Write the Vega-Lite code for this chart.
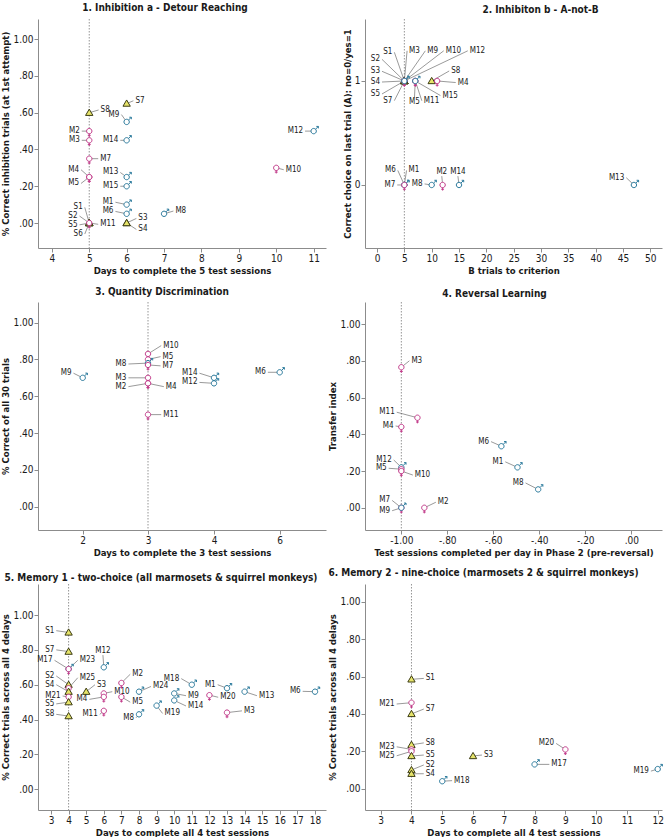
{
  "$schema": "https://vega.github.io/schema/vega-lite/v6.json",
  "padding": {"top": 2, "left": 0, "right": 0, "bottom": 0},
  "background": "white",
  "bounds": "flush",
  "columns": 2,
  "spacing": {"row": 54, "column": 39},
  "config": {
    "view": {"stroke": null},
    "font": "DejaVu Sans Condensed",
    "axis": {"grid": false, "domainColor": "#8c8c8c", "tickColor": "#8c8c8c", "tickSize": 4, "labelFont": "DejaVu Sans Condensed", "labelFontSize": 10, "labelColor": "#1a1a1a", "titleFont": "DejaVu Sans Condensed", "titleFontSize": 9.5, "titleFontWeight": "bold", "titleColor": "#1a1a1a", "labelFlush": false, "labelOverlap": false},
    "axisX": {"labelPadding": 1, "titlePadding": 2},
    "axisY": {"labelPadding": 1, "titlePadding": 2},
    "title": {"font": "DejaVu Sans Condensed", "fontSize": 10, "fontWeight": "bold", "color": "#1a1a1a", "anchor": "middle"}
  },
  "datasets": {
    "p1": [
      {"id": "S8", "g": "S", "x": 5, "y": 0.60, "lx": 5.25, "ly": 0.615},
      {"id": "S7", "g": "S", "x": 6, "y": 0.65, "lx": 6.18, "ly": 0.665},
      {"id": "M9", "g": "M", "x": 6, "y": 0.55, "lx": 5.86, "ly": 0.59},
      {"id": "M2", "g": "F", "x": 5, "y": 0.50, "lx": 4.80, "ly": 0.50},
      {"id": "M3", "g": "F", "x": 5, "y": 0.45, "lx": 4.80, "ly": 0.45},
      {"id": "M14", "g": "M", "x": 6, "y": 0.45, "lx": 5.83, "ly": 0.45},
      {"id": "M12", "g": "M", "x": 11, "y": 0.50, "lx": 10.77, "ly": 0.50},
      {"id": "M7", "g": "F", "x": 5, "y": 0.35, "lx": 5.24, "ly": 0.35},
      {"id": "M10", "g": "F", "x": 10, "y": 0.30, "lx": 10.2, "ly": 0.29},
      {"id": "M4", "g": "F", "x": 5, "y": 0.25, "lx": 4.78, "ly": 0.29},
      {"id": "M5", "g": "F", "x": 5, "y": 0.25, "lx": 4.78, "ly": 0.215},
      {"id": "M13", "g": "M", "x": 6, "y": 0.25, "lx": 5.83, "ly": 0.275},
      {"id": "M15", "g": "M", "x": 6, "y": 0.20, "lx": 5.83, "ly": 0.20},
      {"id": "M1", "g": "M", "x": 6, "y": 0.10, "lx": 5.70, "ly": 0.113},
      {"id": "M6", "g": "M", "x": 6, "y": 0.05, "lx": 5.70, "ly": 0.063},
      {"id": "M8", "g": "M", "x": 7, "y": 0.05, "lx": 7.25, "ly": 0.065},
      {"id": "S3", "g": "S", "x": 6, "y": 0, "lx": 6.26, "ly": 0.025},
      {"id": "S4", "g": "S", "x": 6, "y": 0, "lx": 6.26, "ly": -0.035},
      {"id": "S1", "g": "S", "x": 5, "y": 0, "lx": 4.88, "ly": 0.085},
      {"id": "S2", "g": "S", "x": 5, "y": 0, "lx": 4.74, "ly": 0.038},
      {"id": "S5", "g": "S", "x": 5, "y": 0, "lx": 4.74, "ly": -0.01},
      {"id": "S6", "g": "S", "x": 5, "y": 0, "lx": 4.88, "ly": -0.06},
      {"id": "M11", "g": "F", "x": 5, "y": 0, "lx": 5.24, "ly": -0.007}
    ],
    "p2": [
      {"id": "S1", "g": "S", "x": 5, "y": 1, "lx": 3.17, "ly": 1.276},
      {"id": "S2", "g": "S", "x": 5, "y": 1, "lx": 0.91, "ly": 1.208},
      {"id": "S3", "g": "S", "x": 5, "y": 1, "lx": 0.91, "ly": 1.093},
      {"id": "S4", "g": "S", "x": 5, "y": 1, "lx": 0.91, "ly": 0.99},
      {"id": "S5", "g": "S", "x": 5, "y": 1, "lx": 0.91, "ly": 0.875},
      {"id": "S7", "g": "S", "x": 5, "y": 1, "lx": 3.17, "ly": 0.811},
      {"id": "M3", "g": "F", "x": 5, "y": 1, "lx": 5.5, "ly": 1.29},
      {"id": "M9", "g": "M", "x": 5, "y": 1, "lx": 8.84, "ly": 1.29},
      {"id": "M10", "g": "F", "x": 5, "y": 1, "lx": 12.2, "ly": 1.29},
      {"id": "M12", "g": "M", "x": 5, "y": 1, "lx": 16.6, "ly": 1.29},
      {"id": "M5", "g": "F", "x": 7, "y": 1, "lx": 6.85, "ly": 0.84},
      {"id": "M11", "g": "F", "x": 7, "y": 1, "lx": 8.2, "ly": 0.81},
      {"id": "M15", "g": "M", "x": 7, "y": 1, "lx": 11.6, "ly": 0.86},
      {"id": "S8", "g": "S", "x": 10, "y": 1, "lx": 13.2, "ly": 1.096},
      {"id": "M4", "g": "F", "x": 11, "y": 1, "lx": 14.4, "ly": 0.985},
      {"id": "M6", "g": "M", "x": 5, "y": 0, "lx": 3.8, "ly": 0.14},
      {"id": "M1", "g": "M", "x": 5, "y": 0, "lx": 5.4, "ly": 0.14},
      {"id": "M7", "g": "F", "x": 5, "y": 0, "lx": 3.7, "ly": 0},
      {"id": "M8", "g": "M", "x": 10, "y": 0, "lx": 8.7, "ly": 0.01},
      {"id": "M2", "g": "F", "x": 12, "y": 0, "lx": 11.85, "ly": 0.085},
      {"id": "M14", "g": "M", "x": 15, "y": 0, "lx": 14.8, "ly": 0.085},
      {"id": "M13", "g": "M", "x": 47, "y": 0, "lx": 45.6, "ly": 0.07}
    ],
    "p3": [
      {"id": "M9", "g": "M", "x": 2, "y": 0.70, "lx": 1.86, "ly": 0.725},
      {"id": "M10", "g": "F", "x": 3, "y": 0.83, "lx": 3.2, "ly": 0.875},
      {"id": "M5", "g": "F", "x": 3, "y": 0.80, "lx": 3.19, "ly": 0.815},
      {"id": "M8", "g": "M", "x": 3, "y": 0.78, "lx": 2.7, "ly": 0.775},
      {"id": "M7", "g": "F", "x": 3, "y": 0.77, "lx": 3.19, "ly": 0.765},
      {"id": "M3", "g": "F", "x": 3, "y": 0.70, "lx": 2.7, "ly": 0.70},
      {"id": "M2", "g": "F", "x": 3, "y": 0.67, "lx": 2.7, "ly": 0.652},
      {"id": "M4", "g": "F", "x": 3, "y": 0.67, "lx": 3.24, "ly": 0.652},
      {"id": "M11", "g": "F", "x": 3, "y": 0.50, "lx": 3.2, "ly": 0.50},
      {"id": "M14", "g": "M", "x": 4, "y": 0.70, "lx": 3.78, "ly": 0.725},
      {"id": "M12", "g": "M", "x": 4, "y": 0.67, "lx": 3.78, "ly": 0.675},
      {"id": "M6", "g": "M", "x": 6, "y": 0.73, "lx": 5.64, "ly": 0.73}
    ],
    "p4": [
      {"id": "M3", "g": "F", "x": -1, "y": 0.765, "lx": -0.965, "ly": 0.80},
      {"id": "M11", "g": "F", "x": -0.93, "y": 0.49, "lx": -1.02, "ly": 0.52},
      {"id": "M4", "g": "F", "x": -1, "y": 0.44, "lx": -1.025, "ly": 0.445},
      {"id": "M6", "g": "M", "x": -0.565, "y": 0.335, "lx": -0.61, "ly": 0.36},
      {"id": "M1", "g": "M", "x": -0.495, "y": 0.22, "lx": -0.548, "ly": 0.25},
      {"id": "M8", "g": "M", "x": -0.405, "y": 0.10, "lx": -0.46, "ly": 0.135},
      {"id": "M12", "g": "M", "x": -1, "y": 0.22, "lx": -1.033, "ly": 0.26},
      {"id": "M5", "g": "F", "x": -1, "y": 0.21, "lx": -1.055, "ly": 0.215},
      {"id": "M10", "g": "F", "x": -1, "y": 0.20, "lx": -0.95, "ly": 0.178},
      {"id": "M7", "g": "F", "x": -1, "y": 0, "lx": -1.04, "ly": 0.04},
      {"id": "M9", "g": "M", "x": -1, "y": 0, "lx": -1.04, "ly": -0.016},
      {"id": "M2", "g": "F", "x": -0.90, "y": 0, "lx": -0.85, "ly": 0.03}
    ],
    "p5": [
      {"id": "S1", "g": "S", "x": 4, "y": 0.90, "lx": 3.3, "ly": 0.91},
      {"id": "S7", "g": "S", "x": 4, "y": 0.79, "lx": 3.3, "ly": 0.80},
      {"id": "M17", "g": "M", "x": 4, "y": 0.69, "lx": 3.2, "ly": 0.74},
      {"id": "M23", "g": "F", "x": 4, "y": 0.69, "lx": 4.52, "ly": 0.74},
      {"id": "M12", "g": "M", "x": 6, "y": 0.70, "lx": 5.95, "ly": 0.77},
      {"id": "S2", "g": "S", "x": 4, "y": 0.60, "lx": 3.3, "ly": 0.65},
      {"id": "M25", "g": "F", "x": 4, "y": 0.58, "lx": 4.52, "ly": 0.64},
      {"id": "S4", "g": "S", "x": 4, "y": 0.56, "lx": 3.3, "ly": 0.60},
      {"id": "M21", "g": "F", "x": 4, "y": 0.53, "lx": 3.66, "ly": 0.535},
      {"id": "S5", "g": "S", "x": 4, "y": 0.50, "lx": 3.3, "ly": 0.49},
      {"id": "S8", "g": "S", "x": 4, "y": 0.42, "lx": 3.3, "ly": 0.43},
      {"id": "S3", "g": "S", "x": 5, "y": 0.56, "lx": 5.5, "ly": 0.60},
      {"id": "M10", "g": "F", "x": 6, "y": 0.55, "lx": 6.48, "ly": 0.56},
      {"id": "M4", "g": "F", "x": 6, "y": 0.53, "lx": 5.18, "ly": 0.516},
      {"id": "M11", "g": "F", "x": 6, "y": 0.45, "lx": 5.77, "ly": 0.43},
      {"id": "M2", "g": "F", "x": 7, "y": 0.61, "lx": 7.5, "ly": 0.66},
      {"id": "M5", "g": "F", "x": 7, "y": 0.53, "lx": 7.5, "ly": 0.50},
      {"id": "M8", "g": "M", "x": 8, "y": 0.43, "lx": 7.83, "ly": 0.41},
      {"id": "M24", "g": "M", "x": 8, "y": 0.56, "lx": 8.68, "ly": 0.59},
      {"id": "M19", "g": "M", "x": 9, "y": 0.48, "lx": 9.34, "ly": 0.435},
      {"id": "M9", "g": "M", "x": 10, "y": 0.55, "lx": 10.67, "ly": 0.537},
      {"id": "M14", "g": "M", "x": 10, "y": 0.51, "lx": 10.67, "ly": 0.478},
      {"id": "M18", "g": "M", "x": 11, "y": 0.60, "lx": 10.4, "ly": 0.635},
      {"id": "M20", "g": "F", "x": 12, "y": 0.54, "lx": 12.5, "ly": 0.528},
      {"id": "M1", "g": "M", "x": 13, "y": 0.58, "lx": 12.47, "ly": 0.60},
      {"id": "M3", "g": "F", "x": 13, "y": 0.44, "lx": 13.85, "ly": 0.45},
      {"id": "M13", "g": "M", "x": 14, "y": 0.56, "lx": 14.7, "ly": 0.537},
      {"id": "M6", "g": "M", "x": 18, "y": 0.56, "lx": 17.3, "ly": 0.562}
    ],
    "p6": [
      {"id": "S1", "g": "S", "x": 4, "y": 0.585, "lx": 4.4, "ly": 0.59},
      {"id": "M21", "g": "F", "x": 4, "y": 0.46, "lx": 3.52, "ly": 0.453},
      {"id": "S7", "g": "S", "x": 4, "y": 0.40, "lx": 4.4, "ly": 0.426},
      {"id": "S8", "g": "S", "x": 4, "y": 0.235, "lx": 4.4, "ly": 0.245},
      {"id": "M23", "g": "F", "x": 4, "y": 0.21, "lx": 3.52, "ly": 0.224},
      {"id": "M25", "g": "F", "x": 4, "y": 0.20, "lx": 3.52, "ly": 0.176},
      {"id": "S5", "g": "S", "x": 4, "y": 0.175, "lx": 4.4, "ly": 0.18},
      {"id": "S2", "g": "S", "x": 4, "y": 0.10, "lx": 4.4, "ly": 0.127},
      {"id": "S4", "g": "S", "x": 4, "y": 0.08, "lx": 4.4, "ly": 0.08},
      {"id": "S3", "g": "S", "x": 6, "y": 0.175, "lx": 6.29, "ly": 0.18},
      {"id": "M18", "g": "M", "x": 5, "y": 0.04, "lx": 5.32, "ly": 0.043},
      {"id": "M17", "g": "M", "x": 8, "y": 0.13, "lx": 8.48, "ly": 0.13},
      {"id": "M20", "g": "F", "x": 9, "y": 0.21, "lx": 8.7, "ly": 0.242},
      {"id": "M19", "g": "M", "x": 12, "y": 0.105, "lx": 11.78, "ly": 0.094}
    ]
  },
  "concat": [
    {
      "width": 288, "height": 229,
      "title": {"text": "1. Inhibition a - Detour Reaching", "offset": 6, "dx": -17},
      "layer": [
        {"data": {"values": [{"ref": 5}]}, "mark": {"type": "rule", "color": "#7a7a7a", "strokeDash": [1.5, 1.5], "strokeWidth": 0.8},
         "encoding": {"x": {"field": "ref", "type": "quantitative", "title": "Days to complete the 5 test sessions", "scale": {"domain": [3.63, 11.33], "nice": false, "zero": false}, "axis": {"values": [4, 5, 6, 7, 8, 9, 10, 11], "format": "d", "labelOverlap": false}}}},
        {"data": {"name": "p1"}, "mark": {"type": "rule", "color": "#555555", "strokeWidth": 0.6},
         "encoding": {
           "x": {"field": "x", "type": "quantitative", "title": "Days to complete the 5 test sessions", "scale": {"domain": [3.63, 11.33], "nice": false, "zero": false}, "axis": {"values": [4, 5, 6, 7, 8, 9, 10, 11], "format": "d", "labelOverlap": false}},
           "y": {"field": "y", "type": "quantitative", "title": "% Correct inhibition trials (at 1st attempt)", "scale": {"domain": [-0.136, 1.11], "nice": false, "zero": false}, "axis": {"values": [0, 0.2, 0.4, 0.6, 0.8, 1], "labelOverlap": false, "labelExpr": "(datum.value < 0 ? '-' : '') + (abs(datum.value) >= 1 ? format(abs(datum.value), '.2f') : substring(format(abs(datum.value), '.2f'), 1))"}},
           "x2": {"field": "lx"}, "y2": {"field": "ly"}}},
        {"data": {"name": "p1"}, "mark": {"type": "text", "font": "DejaVu Sans Condensed", "fontSize": 8, "color": "#1a1a1a",
           "align": {"expr": "datum.lx > datum.x + 0.05 ? 'left' : (datum.lx < datum.x - 0.05 ? 'right' : 'center')"},
           "baseline": {"expr": "abs(datum.lx - datum.x) <= 0.05 ? (datum.ly > datum.y ? 'bottom' : 'top') : 'middle'"},
           "dx": {"expr": "datum.lx > datum.x + 0.05 ? 2 : (datum.lx < datum.x - 0.05 ? -2 : 0)"}},
         "encoding": {
           "x": {"field": "lx", "type": "quantitative", "title": "Days to complete the 5 test sessions", "scale": {"domain": [3.63, 11.33], "nice": false, "zero": false}, "axis": {"values": [4, 5, 6, 7, 8, 9, 10, 11], "format": "d", "labelOverlap": false}},
           "y": {"field": "ly", "type": "quantitative", "title": "% Correct inhibition trials (at 1st attempt)", "scale": {"domain": [-0.136, 1.11], "nice": false, "zero": false}, "axis": {"values": [0, 0.2, 0.4, 0.6, 0.8, 1], "labelOverlap": false, "labelExpr": "(datum.value < 0 ? '-' : '') + (abs(datum.value) >= 1 ? format(abs(datum.value), '.2f') : substring(format(abs(datum.value), '.2f'), 1))"}},
           "text": {"field": "id"}}},
        {"data": {"name": "p1"}, "mark": {"type": "point", "filled": true, "size": 80, "strokeWidth": 1, "opacity": 1},
         "encoding": {
           "x": {"field": "x", "type": "quantitative", "title": "Days to complete the 5 test sessions", "scale": {"domain": [3.63, 11.33], "nice": false, "zero": false}, "axis": {"values": [4, 5, 6, 7, 8, 9, 10, 11], "format": "d", "labelOverlap": false}},
           "y": {"field": "y", "type": "quantitative", "title": "% Correct inhibition trials (at 1st attempt)", "scale": {"domain": [-0.136, 1.11], "nice": false, "zero": false}, "axis": {"values": [0, 0.2, 0.4, 0.6, 0.8, 1], "labelOverlap": false, "labelExpr": "(datum.value < 0 ? '-' : '') + (abs(datum.value) >= 1 ? format(abs(datum.value), '.2f') : substring(format(abs(datum.value), '.2f'), 1))"}},
           "shape": {"field": "g", "type": "nominal", "legend": null, "scale": {"domain": ["F", "M", "S"], "range": ["M0.6,0A0.6,0.6,0,1,1,-0.6,0A0.6,0.6,0,1,1,0.6,0ZM0,0.6L0,1.25M-0.32,0.95L0.32,0.95", "M0.6,0A0.6,0.6,0,1,1,-0.6,0A0.6,0.6,0,1,1,0.6,0ZM0.42,-0.42L1.05,-1.05M0.6,-1.05L1.05,-1.05L1.05,-0.6", "M0,-0.8L0.82,0.6L-0.82,0.6Z"]}},
           "stroke": {"field": "g", "type": "nominal", "legend": null, "scale": {"domain": ["F", "M", "S"], "range": ["#c23b8a", "#2b7a9c", "#3c3c14"]}},
           "fill": {"field": "g", "type": "nominal", "legend": null, "scale": {"domain": ["F", "M", "S"], "range": ["#ffffff", "#ffffff", "#e6e46a"]}}
         }}
      ]
    },
    {
      "width": 297, "height": 229,
      "title": {"text": "2. Inhibiton b - A-not-B", "offset": 4, "dx": 27},
      "layer": [
        {"data": {"values": [{"ref": 5}]}, "mark": {"type": "rule", "color": "#7a7a7a", "strokeDash": [1.5, 1.5], "strokeWidth": 0.8},
         "encoding": {"x": {"field": "ref", "type": "quantitative", "title": "B trials to criterion", "scale": {"domain": [-2.2, 52.14], "nice": false, "zero": false}, "axis": {"values": [0, 5, 10, 15, 20, 25, 30, 35, 40, 45, 50], "format": "d", "labelOverlap": false}}}},
        {"data": {"name": "p2"}, "mark": {"type": "rule", "color": "#555555", "strokeWidth": 0.6},
         "encoding": {
           "x": {"field": "x", "type": "quantitative", "title": "B trials to criterion", "scale": {"domain": [-2.2, 52.14], "nice": false, "zero": false}, "axis": {"values": [0, 5, 10, 15, 20, 25, 30, 35, 40, 45, 50], "format": "d", "labelOverlap": false}},
           "y": {"field": "y", "type": "quantitative", "title": "Correct choice on last trial (A): no=0/yes=1", "scale": {"domain": [-0.606, 1.596], "nice": false, "zero": false}, "axis": {"values": [0, 1], "format": "d", "labelOverlap": false}},
           "x2": {"field": "lx"}, "y2": {"field": "ly"}}},
        {"data": {"name": "p2"}, "mark": {"type": "text", "font": "DejaVu Sans Condensed", "fontSize": 8, "color": "#1a1a1a",
           "align": {"expr": "datum.lx > datum.x + 0.3 ? 'left' : (datum.lx < datum.x - 0.3 ? 'right' : 'center')"},
           "baseline": {"expr": "abs(datum.lx - datum.x) <= 0.3 ? (datum.ly > datum.y ? 'bottom' : 'top') : 'middle'"},
           "dx": {"expr": "datum.lx > datum.x + 0.3 ? 2 : (datum.lx < datum.x - 0.3 ? -2 : 0)"}},
         "encoding": {
           "x": {"field": "lx", "type": "quantitative", "title": "B trials to criterion", "scale": {"domain": [-2.2, 52.14], "nice": false, "zero": false}, "axis": {"values": [0, 5, 10, 15, 20, 25, 30, 35, 40, 45, 50], "format": "d", "labelOverlap": false}},
           "y": {"field": "ly", "type": "quantitative", "title": "Correct choice on last trial (A): no=0/yes=1", "scale": {"domain": [-0.606, 1.596], "nice": false, "zero": false}, "axis": {"values": [0, 1], "format": "d", "labelOverlap": false}},
           "text": {"field": "id"}}},
        {"data": {"name": "p2"}, "mark": {"type": "point", "filled": true, "size": 80, "strokeWidth": 1, "opacity": 1},
         "encoding": {
           "x": {"field": "x", "type": "quantitative", "title": "B trials to criterion", "scale": {"domain": [-2.2, 52.14], "nice": false, "zero": false}, "axis": {"values": [0, 5, 10, 15, 20, 25, 30, 35, 40, 45, 50], "format": "d", "labelOverlap": false}},
           "y": {"field": "y", "type": "quantitative", "title": "Correct choice on last trial (A): no=0/yes=1", "scale": {"domain": [-0.606, 1.596], "nice": false, "zero": false}, "axis": {"values": [0, 1], "format": "d", "labelOverlap": false}},
           "shape": {"field": "g", "type": "nominal", "legend": null, "scale": {"domain": ["F", "M", "S"], "range": ["M0.6,0A0.6,0.6,0,1,1,-0.6,0A0.6,0.6,0,1,1,0.6,0ZM0,0.6L0,1.25M-0.32,0.95L0.32,0.95", "M0.6,0A0.6,0.6,0,1,1,-0.6,0A0.6,0.6,0,1,1,0.6,0ZM0.42,-0.42L1.05,-1.05M0.6,-1.05L1.05,-1.05L1.05,-0.6", "M0,-0.8L0.82,0.6L-0.82,0.6Z"]}},
           "stroke": {"field": "g", "type": "nominal", "legend": null, "scale": {"domain": ["F", "M", "S"], "range": ["#c23b8a", "#2b7a9c", "#3c3c14"]}},
           "fill": {"field": "g", "type": "nominal", "legend": null, "scale": {"domain": ["F", "M", "S"], "range": ["#ffffff", "#ffffff", "#e6e46a"]}}
         }}
      ]
    },
    {
      "width": 288, "height": 228,
      "title": {"text": "3. Quantity Discrimination", "offset": 5, "dx": -20},
      "layer": [
        {"data": {"values": [{"ref": 3}]}, "mark": {"type": "rule", "color": "#7a7a7a", "strokeDash": [1.5, 1.5], "strokeWidth": 0.8},
         "encoding": {"x": {"field": "ref", "type": "quantitative", "title": "Days to complete the 3 test sessions", "scale": {"domain": [1.32, 2, 3, 4, 6, 7.41], "range": [0, 44.7, 110, 176, 241.7, 288], "nice": false, "zero": false}, "axis": {"values": [2, 3, 4, 6], "format": "d", "labelOverlap": false}}}},
        {"data": {"name": "p3"}, "mark": {"type": "rule", "color": "#555555", "strokeWidth": 0.6},
         "encoding": {
           "x": {"field": "x", "type": "quantitative", "title": "Days to complete the 3 test sessions", "scale": {"domain": [1.32, 2, 3, 4, 6, 7.41], "range": [0, 44.7, 110, 176, 241.7, 288], "nice": false, "zero": false}, "axis": {"values": [2, 3, 4, 6], "format": "d", "labelOverlap": false}},
           "y": {"field": "y", "type": "quantitative", "title": "% Correct of all 30 trials", "scale": {"domain": [-0.127, 1.112], "nice": false, "zero": false}, "axis": {"values": [0, 0.2, 0.4, 0.6, 0.8, 1], "labelOverlap": false, "labelExpr": "(datum.value < 0 ? '-' : '') + (abs(datum.value) >= 1 ? format(abs(datum.value), '.2f') : substring(format(abs(datum.value), '.2f'), 1))"}},
           "x2": {"field": "lx"}, "y2": {"field": "ly"}}},
        {"data": {"name": "p3"}, "mark": {"type": "text", "font": "DejaVu Sans Condensed", "fontSize": 8, "color": "#1a1a1a",
           "align": {"expr": "datum.lx > datum.x + 0.05 ? 'left' : (datum.lx < datum.x - 0.05 ? 'right' : 'center')"},
           "baseline": {"expr": "abs(datum.lx - datum.x) <= 0.05 ? (datum.ly > datum.y ? 'bottom' : 'top') : 'middle'"},
           "dx": {"expr": "datum.lx > datum.x + 0.05 ? 2 : (datum.lx < datum.x - 0.05 ? -2 : 0)"}},
         "encoding": {
           "x": {"field": "lx", "type": "quantitative", "title": "Days to complete the 3 test sessions", "scale": {"domain": [1.32, 2, 3, 4, 6, 7.41], "range": [0, 44.7, 110, 176, 241.7, 288], "nice": false, "zero": false}, "axis": {"values": [2, 3, 4, 6], "format": "d", "labelOverlap": false}},
           "y": {"field": "ly", "type": "quantitative", "title": "% Correct of all 30 trials", "scale": {"domain": [-0.127, 1.112], "nice": false, "zero": false}, "axis": {"values": [0, 0.2, 0.4, 0.6, 0.8, 1], "labelOverlap": false, "labelExpr": "(datum.value < 0 ? '-' : '') + (abs(datum.value) >= 1 ? format(abs(datum.value), '.2f') : substring(format(abs(datum.value), '.2f'), 1))"}},
           "text": {"field": "id"}}},
        {"data": {"name": "p3"}, "mark": {"type": "point", "filled": true, "size": 80, "strokeWidth": 1, "opacity": 1},
         "encoding": {
           "x": {"field": "x", "type": "quantitative", "title": "Days to complete the 3 test sessions", "scale": {"domain": [1.32, 2, 3, 4, 6, 7.41], "range": [0, 44.7, 110, 176, 241.7, 288], "nice": false, "zero": false}, "axis": {"values": [2, 3, 4, 6], "format": "d", "labelOverlap": false}},
           "y": {"field": "y", "type": "quantitative", "title": "% Correct of all 30 trials", "scale": {"domain": [-0.127, 1.112], "nice": false, "zero": false}, "axis": {"values": [0, 0.2, 0.4, 0.6, 0.8, 1], "labelOverlap": false, "labelExpr": "(datum.value < 0 ? '-' : '') + (abs(datum.value) >= 1 ? format(abs(datum.value), '.2f') : substring(format(abs(datum.value), '.2f'), 1))"}},
           "shape": {"field": "g", "type": "nominal", "legend": null, "scale": {"domain": ["F", "M", "S"], "range": ["M0.6,0A0.6,0.6,0,1,1,-0.6,0A0.6,0.6,0,1,1,0.6,0ZM0,0.6L0,1.25M-0.32,0.95L0.32,0.95", "M0.6,0A0.6,0.6,0,1,1,-0.6,0A0.6,0.6,0,1,1,0.6,0ZM0.42,-0.42L1.05,-1.05M0.6,-1.05L1.05,-1.05L1.05,-0.6", "M0,-0.8L0.82,0.6L-0.82,0.6Z"]}},
           "stroke": {"field": "g", "type": "nominal", "legend": null, "scale": {"domain": ["F", "M", "S"], "range": ["#c23b8a", "#2b7a9c", "#3c3c14"]}},
           "fill": {"field": "g", "type": "nominal", "legend": null, "scale": {"domain": ["F", "M", "S"], "range": ["#ffffff", "#ffffff", "#e6e46a"]}}
         }}
      ]
    },
    {
      "width": 297, "height": 228,
      "title": {"text": "4. Reversal Learning", "offset": 3, "dx": -19},
      "layer": [
        {"data": {"values": [{"ref": -1}]}, "mark": {"type": "rule", "color": "#7a7a7a", "strokeDash": [1.5, 1.5], "strokeWidth": 0.8},
         "encoding": {"x": {"field": "ref", "type": "quantitative", "title": "Test sessions completed per day in Phase 2 (pre-reversal)", "scale": {"domain": [-1.158, 0.1335], "nice": false, "zero": false}, "axis": {"values": [-1, -0.8, -0.6, -0.4, -0.2, 0], "labelOverlap": false, "labelExpr": "(datum.value < 0 ? '-' : '') + (abs(datum.value) >= 1 ? format(abs(datum.value), '.2f') : substring(format(abs(datum.value), '.2f'), 1))"}}}},
        {"data": {"name": "p4"}, "mark": {"type": "rule", "color": "#555555", "strokeWidth": 0.6},
         "encoding": {
           "x": {"field": "x", "type": "quantitative", "title": "Test sessions completed per day in Phase 2 (pre-reversal)", "scale": {"domain": [-1.158, 0.1335], "nice": false, "zero": false}, "axis": {"values": [-1, -0.8, -0.6, -0.4, -0.2, 0], "labelOverlap": false, "labelExpr": "(datum.value < 0 ? '-' : '') + (abs(datum.value) >= 1 ? format(abs(datum.value), '.2f') : substring(format(abs(datum.value), '.2f'), 1))"}},
           "y": {"field": "y", "type": "quantitative", "title": "Transfer index", "scale": {"domain": [-0.121, 1.12], "nice": false, "zero": false}, "axis": {"values": [0, 0.2, 0.4, 0.6, 0.8, 1], "labelOverlap": false, "labelExpr": "(datum.value < 0 ? '-' : '') + (abs(datum.value) >= 1 ? format(abs(datum.value), '.2f') : substring(format(abs(datum.value), '.2f'), 1))"}},
           "x2": {"field": "lx"}, "y2": {"field": "ly"}}},
        {"data": {"name": "p4"}, "mark": {"type": "text", "font": "DejaVu Sans Condensed", "fontSize": 8, "color": "#1a1a1a",
           "align": {"expr": "datum.lx > datum.x + 0.005 ? 'left' : (datum.lx < datum.x - 0.005 ? 'right' : 'center')"},
           "baseline": {"expr": "abs(datum.lx - datum.x) <= 0.005 ? (datum.ly > datum.y ? 'bottom' : 'top') : 'middle'"},
           "dx": {"expr": "datum.lx > datum.x + 0.005 ? 2 : (datum.lx < datum.x - 0.005 ? -2 : 0)"}},
         "encoding": {
           "x": {"field": "lx", "type": "quantitative", "title": "Test sessions completed per day in Phase 2 (pre-reversal)", "scale": {"domain": [-1.158, 0.1335], "nice": false, "zero": false}, "axis": {"values": [-1, -0.8, -0.6, -0.4, -0.2, 0], "labelOverlap": false, "labelExpr": "(datum.value < 0 ? '-' : '') + (abs(datum.value) >= 1 ? format(abs(datum.value), '.2f') : substring(format(abs(datum.value), '.2f'), 1))"}},
           "y": {"field": "ly", "type": "quantitative", "title": "Transfer index", "scale": {"domain": [-0.121, 1.12], "nice": false, "zero": false}, "axis": {"values": [0, 0.2, 0.4, 0.6, 0.8, 1], "labelOverlap": false, "labelExpr": "(datum.value < 0 ? '-' : '') + (abs(datum.value) >= 1 ? format(abs(datum.value), '.2f') : substring(format(abs(datum.value), '.2f'), 1))"}},
           "text": {"field": "id"}}},
        {"data": {"name": "p4"}, "mark": {"type": "point", "filled": true, "size": 80, "strokeWidth": 1, "opacity": 1},
         "encoding": {
           "x": {"field": "x", "type": "quantitative", "title": "Test sessions completed per day in Phase 2 (pre-reversal)", "scale": {"domain": [-1.158, 0.1335], "nice": false, "zero": false}, "axis": {"values": [-1, -0.8, -0.6, -0.4, -0.2, 0], "labelOverlap": false, "labelExpr": "(datum.value < 0 ? '-' : '') + (abs(datum.value) >= 1 ? format(abs(datum.value), '.2f') : substring(format(abs(datum.value), '.2f'), 1))"}},
           "y": {"field": "y", "type": "quantitative", "title": "Transfer index", "scale": {"domain": [-0.121, 1.12], "nice": false, "zero": false}, "axis": {"values": [0, 0.2, 0.4, 0.6, 0.8, 1], "labelOverlap": false, "labelExpr": "(datum.value < 0 ? '-' : '') + (abs(datum.value) >= 1 ? format(abs(datum.value), '.2f') : substring(format(abs(datum.value), '.2f'), 1))"}},
           "shape": {"field": "g", "type": "nominal", "legend": null, "scale": {"domain": ["F", "M", "S"], "range": ["M0.6,0A0.6,0.6,0,1,1,-0.6,0A0.6,0.6,0,1,1,0.6,0ZM0,0.6L0,1.25M-0.32,0.95L0.32,0.95", "M0.6,0A0.6,0.6,0,1,1,-0.6,0A0.6,0.6,0,1,1,0.6,0ZM0.42,-0.42L1.05,-1.05M0.6,-1.05L1.05,-1.05L1.05,-0.6", "M0,-0.8L0.82,0.6L-0.82,0.6Z"]}},
           "stroke": {"field": "g", "type": "nominal", "legend": null, "scale": {"domain": ["F", "M", "S"], "range": ["#c23b8a", "#2b7a9c", "#3c3c14"]}},
           "fill": {"field": "g", "type": "nominal", "legend": null, "scale": {"domain": ["F", "M", "S"], "range": ["#ffffff", "#ffffff", "#e6e46a"]}}
         }}
      ]
    },
    {
      "width": 288, "height": 226,
      "title": {"text": "5. Memory 1 - two-choice (all marmosets & squirrel monkeys)", "offset": 1, "dx": -21},
      "layer": [
        {"data": {"values": [{"ref": 4}]}, "mark": {"type": "rule", "color": "#7a7a7a", "strokeDash": [1.5, 1.5], "strokeWidth": 0.8},
         "encoding": {"x": {"field": "ref", "type": "quantitative", "title": "Days to complete all 4 test sessions", "scale": {"domain": [2.261, 18.625], "nice": false, "zero": false}, "axis": {"values": [3, 4, 5, 6, 7, 8, 9, 10, 11, 12, 13, 14, 15, 16, 17, 18], "format": "d", "labelOverlap": false}}}},
        {"data": {"name": "p5"}, "mark": {"type": "rule", "color": "#555555", "strokeWidth": 0.6},
         "encoding": {
           "x": {"field": "x", "type": "quantitative", "title": "Days to complete all 4 test sessions", "scale": {"domain": [2.261, 18.625], "nice": false, "zero": false}, "axis": {"values": [3, 4, 5, 6, 7, 8, 9, 10, 11, 12, 13, 14, 15, 16, 17, 18], "format": "d", "labelOverlap": false}},
           "y": {"field": "y", "type": "quantitative", "title": "% Correct trials across all 4 delays", "scale": {"domain": [-0.119, 1.178], "nice": false, "zero": false}, "axis": {"values": [0, 0.2, 0.4, 0.6, 0.8, 1], "labelOverlap": false, "labelExpr": "(datum.value < 0 ? '-' : '') + (abs(datum.value) >= 1 ? format(abs(datum.value), '.2f') : substring(format(abs(datum.value), '.2f'), 1))"}},
           "x2": {"field": "lx"}, "y2": {"field": "ly"}}},
        {"data": {"name": "p5"}, "mark": {"type": "text", "font": "DejaVu Sans Condensed", "fontSize": 8, "color": "#1a1a1a",
           "align": {"expr": "datum.lx > datum.x + 0.1 ? 'left' : (datum.lx < datum.x - 0.1 ? 'right' : 'center')"},
           "baseline": {"expr": "abs(datum.lx - datum.x) <= 0.1 ? (datum.ly > datum.y ? 'bottom' : 'top') : 'middle'"},
           "dx": {"expr": "datum.lx > datum.x + 0.1 ? 2 : (datum.lx < datum.x - 0.1 ? -2 : 0)"}},
         "encoding": {
           "x": {"field": "lx", "type": "quantitative", "title": "Days to complete all 4 test sessions", "scale": {"domain": [2.261, 18.625], "nice": false, "zero": false}, "axis": {"values": [3, 4, 5, 6, 7, 8, 9, 10, 11, 12, 13, 14, 15, 16, 17, 18], "format": "d", "labelOverlap": false}},
           "y": {"field": "ly", "type": "quantitative", "title": "% Correct trials across all 4 delays", "scale": {"domain": [-0.119, 1.178], "nice": false, "zero": false}, "axis": {"values": [0, 0.2, 0.4, 0.6, 0.8, 1], "labelOverlap": false, "labelExpr": "(datum.value < 0 ? '-' : '') + (abs(datum.value) >= 1 ? format(abs(datum.value), '.2f') : substring(format(abs(datum.value), '.2f'), 1))"}},
           "text": {"field": "id"}}},
        {"data": {"name": "p5"}, "mark": {"type": "point", "filled": true, "size": 80, "strokeWidth": 1, "opacity": 1},
         "encoding": {
           "x": {"field": "x", "type": "quantitative", "title": "Days to complete all 4 test sessions", "scale": {"domain": [2.261, 18.625], "nice": false, "zero": false}, "axis": {"values": [3, 4, 5, 6, 7, 8, 9, 10, 11, 12, 13, 14, 15, 16, 17, 18], "format": "d", "labelOverlap": false}},
           "y": {"field": "y", "type": "quantitative", "title": "% Correct trials across all 4 delays", "scale": {"domain": [-0.119, 1.178], "nice": false, "zero": false}, "axis": {"values": [0, 0.2, 0.4, 0.6, 0.8, 1], "labelOverlap": false, "labelExpr": "(datum.value < 0 ? '-' : '') + (abs(datum.value) >= 1 ? format(abs(datum.value), '.2f') : substring(format(abs(datum.value), '.2f'), 1))"}},
           "shape": {"field": "g", "type": "nominal", "legend": null, "scale": {"domain": ["F", "M", "S"], "range": ["M0.6,0A0.6,0.6,0,1,1,-0.6,0A0.6,0.6,0,1,1,0.6,0ZM0,0.6L0,1.25M-0.32,0.95L0.32,0.95", "M0.6,0A0.6,0.6,0,1,1,-0.6,0A0.6,0.6,0,1,1,0.6,0ZM0.42,-0.42L1.05,-1.05M0.6,-1.05L1.05,-1.05L1.05,-0.6", "M0,-0.8L0.82,0.6L-0.82,0.6Z"]}},
           "stroke": {"field": "g", "type": "nominal", "legend": null, "scale": {"domain": ["F", "M", "S"], "range": ["#c23b8a", "#2b7a9c", "#3c3c14"]}},
           "fill": {"field": "g", "type": "nominal", "legend": null, "scale": {"domain": ["F", "M", "S"], "range": ["#ffffff", "#ffffff", "#e6e46a"]}}
         }}
      ]
    },
    {
      "width": 297, "height": 226,
      "title": {"text": "6. Memory 2 - nine-choice (marmosets 2 & squirrel monkeys)", "offset": 6, "dx": -30},
      "layer": [
        {"data": {"values": [{"ref": 4}]}, "mark": {"type": "rule", "color": "#7a7a7a", "strokeDash": [1.5, 1.5], "strokeWidth": 0.8},
         "encoding": {"x": {"field": "ref", "type": "quantitative", "title": "Days to complete all 4 test sessions", "scale": {"domain": [2.49, 12.14], "nice": false, "zero": false}, "axis": {"values": [3, 4, 5, 6, 7, 8, 9, 10, 11, 12], "format": "d", "labelOverlap": false}}}},
        {"data": {"name": "p6"}, "mark": {"type": "rule", "color": "#555555", "strokeWidth": 0.6},
         "encoding": {
           "x": {"field": "x", "type": "quantitative", "title": "Days to complete all 4 test sessions", "scale": {"domain": [2.49, 12.14], "nice": false, "zero": false}, "axis": {"values": [3, 4, 5, 6, 7, 8, 9, 10, 11, 12], "format": "d", "labelOverlap": false}},
           "y": {"field": "y", "type": "quantitative", "title": "% Correct trials across all 4 delays", "scale": {"domain": [-0.114, 1.095], "nice": false, "zero": false}, "axis": {"values": [0, 0.2, 0.4, 0.6, 0.8, 1], "labelOverlap": false, "labelExpr": "(datum.value < 0 ? '-' : '') + (abs(datum.value) >= 1 ? format(abs(datum.value), '.2f') : substring(format(abs(datum.value), '.2f'), 1))"}},
           "x2": {"field": "lx"}, "y2": {"field": "ly"}}},
        {"data": {"name": "p6"}, "mark": {"type": "text", "font": "DejaVu Sans Condensed", "fontSize": 8, "color": "#1a1a1a",
           "align": {"expr": "datum.lx > datum.x + 0.05 ? 'left' : (datum.lx < datum.x - 0.05 ? 'right' : 'center')"},
           "baseline": {"expr": "abs(datum.lx - datum.x) <= 0.05 ? (datum.ly > datum.y ? 'bottom' : 'top') : 'middle'"},
           "dx": {"expr": "datum.lx > datum.x + 0.05 ? 2 : (datum.lx < datum.x - 0.05 ? -2 : 0)"}},
         "encoding": {
           "x": {"field": "lx", "type": "quantitative", "title": "Days to complete all 4 test sessions", "scale": {"domain": [2.49, 12.14], "nice": false, "zero": false}, "axis": {"values": [3, 4, 5, 6, 7, 8, 9, 10, 11, 12], "format": "d", "labelOverlap": false}},
           "y": {"field": "ly", "type": "quantitative", "title": "% Correct trials across all 4 delays", "scale": {"domain": [-0.114, 1.095], "nice": false, "zero": false}, "axis": {"values": [0, 0.2, 0.4, 0.6, 0.8, 1], "labelOverlap": false, "labelExpr": "(datum.value < 0 ? '-' : '') + (abs(datum.value) >= 1 ? format(abs(datum.value), '.2f') : substring(format(abs(datum.value), '.2f'), 1))"}},
           "text": {"field": "id"}}},
        {"data": {"name": "p6"}, "mark": {"type": "point", "filled": true, "size": 80, "strokeWidth": 1, "opacity": 1},
         "encoding": {
           "x": {"field": "x", "type": "quantitative", "title": "Days to complete all 4 test sessions", "scale": {"domain": [2.49, 12.14], "nice": false, "zero": false}, "axis": {"values": [3, 4, 5, 6, 7, 8, 9, 10, 11, 12], "format": "d", "labelOverlap": false}},
           "y": {"field": "y", "type": "quantitative", "title": "% Correct trials across all 4 delays", "scale": {"domain": [-0.114, 1.095], "nice": false, "zero": false}, "axis": {"values": [0, 0.2, 0.4, 0.6, 0.8, 1], "labelOverlap": false, "labelExpr": "(datum.value < 0 ? '-' : '') + (abs(datum.value) >= 1 ? format(abs(datum.value), '.2f') : substring(format(abs(datum.value), '.2f'), 1))"}},
           "shape": {"field": "g", "type": "nominal", "legend": null, "scale": {"domain": ["F", "M", "S"], "range": ["M0.6,0A0.6,0.6,0,1,1,-0.6,0A0.6,0.6,0,1,1,0.6,0ZM0,0.6L0,1.25M-0.32,0.95L0.32,0.95", "M0.6,0A0.6,0.6,0,1,1,-0.6,0A0.6,0.6,0,1,1,0.6,0ZM0.42,-0.42L1.05,-1.05M0.6,-1.05L1.05,-1.05L1.05,-0.6", "M0,-0.8L0.82,0.6L-0.82,0.6Z"]}},
           "stroke": {"field": "g", "type": "nominal", "legend": null, "scale": {"domain": ["F", "M", "S"], "range": ["#c23b8a", "#2b7a9c", "#3c3c14"]}},
           "fill": {"field": "g", "type": "nominal", "legend": null, "scale": {"domain": ["F", "M", "S"], "range": ["#ffffff", "#ffffff", "#e6e46a"]}}
         }}
      ]
    }
  ]
}
